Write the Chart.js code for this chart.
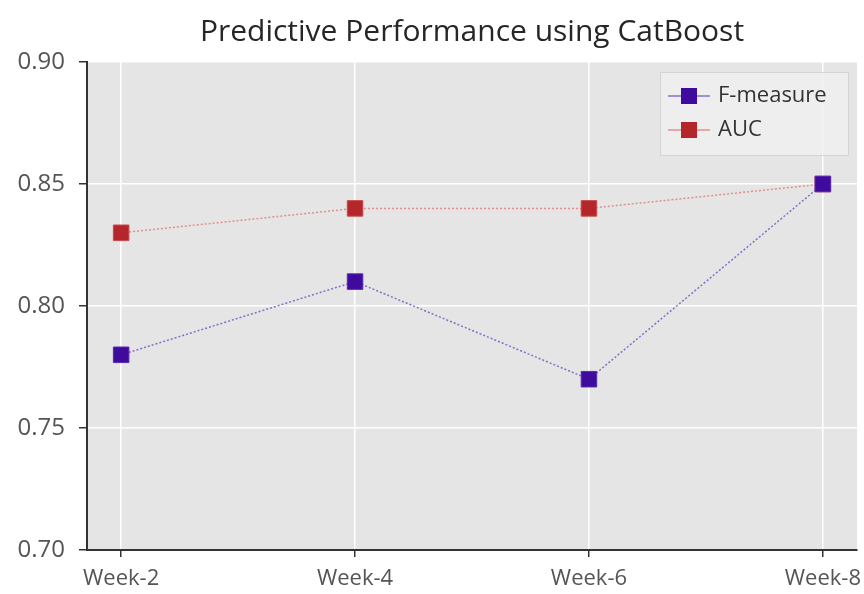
<!DOCTYPE html>
<html lang="en">
<head>
    <meta charset="UTF-8">
    <title>Predictive Performance using CatBoost</title>
    <style>
        body {
            margin: 0;
            background-color: #ffffff;
        }
        .main {
            width: 864px;
            height: 594px;
        }
    </style>
    <script src="https://cdn.jsdelivr.net/npm/chart.js"></script>
</head>
<body>

<div class="main">
    <canvas id="myChart" width="864" height="594"></canvas>
</div>

<script>
    // data
    const weeks = ['Week-2', 'Week-4', 'Week-6', 'Week-8'];
    const fMeasure = [0.78, 0.81, 0.77, 0.85];
    const auc = [0.83, 0.84, 0.84, 0.85];
    const yTicks = [0.70, 0.75, 0.80, 0.85, 0.90];

    const FONT = '"Open Sans", "DejaVu Sans", sans-serif';

    function toPoints(values) {
        return values.map((v, i) => ({x: i, y: v}));
    }

    // gray plot background
    const plotBackground = {
        id: 'plotBackground',
        beforeDraw(chart) {
            const {ctx, chartArea} = chart;
            ctx.save();
            ctx.fillStyle = '#e5e5e5';
            ctx.fillRect(chartArea.left, chartArea.top, chartArea.right - chartArea.left, chartArea.bottom - chartArea.top);
            ctx.restore();
        }
    };

    // matplotlib-like legend: line + marker
    const lineLegend = {
        id: 'lineLegend',
        afterDraw(chart) {
            const {ctx, chartArea} = chart;
            const w = 188, h = 83;
            const x0 = chartArea.right - w - 9;
            const y0 = chartArea.top + 10;
            ctx.save();
            ctx.fillStyle = 'rgba(240,240,240,0.85)';
            ctx.strokeStyle = '#d4d4d4';
            ctx.lineWidth = 1;
            ctx.fillRect(x0, y0, w, h);
            ctx.strokeRect(x0 + 0.5, y0 + 0.5, w, h);
            ctx.font = '22px ' + FONT;
            ctx.textBaseline = 'middle';
            chart.data.datasets.forEach((ds, i) => {
                const cy = y0 + 24 + i * 34;
                ctx.strokeStyle = ds.borderColor;
                ctx.lineWidth = 1.5;
                ctx.beginPath();
                ctx.moveTo(x0 + 8, cy);
                ctx.lineTo(x0 + 50, cy);
                ctx.stroke();
                ctx.fillStyle = ds.pointBackgroundColor;
                ctx.fillRect(x0 + 21, cy - 8, 16, 16);
                ctx.fillStyle = '#333333';
                ctx.fillText(ds.label, x0 + 58, cy);
            });
            ctx.restore();
        }
    };

    const data = {
        datasets: [{
            label: 'F-measure',
            data: toPoints(fMeasure),
            borderColor: 'rgba(110, 80, 190, 0.8)',
            borderWidth: 1.5,
            borderDash: [2, 2],
            pointStyle: 'rect',
            pointRadius: 11,
            pointBackgroundColor: '#3f0a9e',
            pointBorderColor: '#5a2bb0',
            pointBorderWidth: 1,
        }, {
            label: 'AUC',
            data: toPoints(auc),
            borderColor: 'rgba(225, 120, 120, 0.8)',
            borderWidth: 1.5,
            borderDash: [2, 2],
            pointStyle: 'rect',
            pointRadius: 11,
            pointBackgroundColor: '#b5262a',
            pointBorderColor: '#c84a4a',
            pointBorderWidth: 1,
        }]
    };

    const config = {
        type: 'line',
        data: data,
        plugins: [plotBackground, lineLegend],
        options: {
            responsive: false,
            animation: false,
            layout: {
                // no extra room for the markers at the edge
                autoPadding: false,
                padding: {top: 0, right: 7, bottom: 0, left: 0}
            },
            plugins: {
                legend: {display: false},
                tooltip: {enabled: false},
                title: {
                    display: true,
                    fullSize: false,
                    text: 'Predictive Performance using CatBoost',
                    color: '#262626',
                    font: {family: FONT, size: 30, weight: 'normal', lineHeight: 1.2},
                    padding: {top: 14, bottom: 12}
                }
            },
            scales: {
                x: {
                    type: 'linear',
                    min: -0.146,
                    max: 3.146,
                    afterBuildTicks(axis) {
                        axis.ticks = weeks.map((_, i) => ({value: i}));
                    },
                    afterFit(axis) {
                        axis.height = 44;
                        axis.paddingLeft = 0;
                        axis.paddingRight = 0;
                    },
                    ticks: {
                        callback: (v) => weeks[v],
                        color: '#555555',
                        font: {family: FONT, size: 22},
                        padding: 9,
                        maxRotation: 0
                    },
                    grid: {
                        color: '#ffffff',
                        lineWidth: 1.5,
                        tickColor: '#333333',
                        tickLength: 7
                    },
                    border: {color: '#333333', width: 2}
                },
                y: {
                    min: 0.70,
                    max: 0.90,
                    afterBuildTicks(axis) {
                        axis.ticks = yTicks.map(v => ({value: v}));
                    },
                    afterFit(axis) {
                        axis.width = 87;
                    },
                    ticks: {
                        callback: (v) => v.toFixed(2),
                        color: '#555555',
                        font: {family: FONT, size: 24},
                        padding: 14
                    },
                    grid: {
                        color: '#ffffff',
                        lineWidth: 1.5,
                        tickColor: '#333333',
                        tickLength: 8
                    },
                    border: {color: '#333333', width: 2}
                }
            }
        }
    };

    const myChart = new Chart(document.getElementById('myChart'), config);
</script>

</body>
</html>
